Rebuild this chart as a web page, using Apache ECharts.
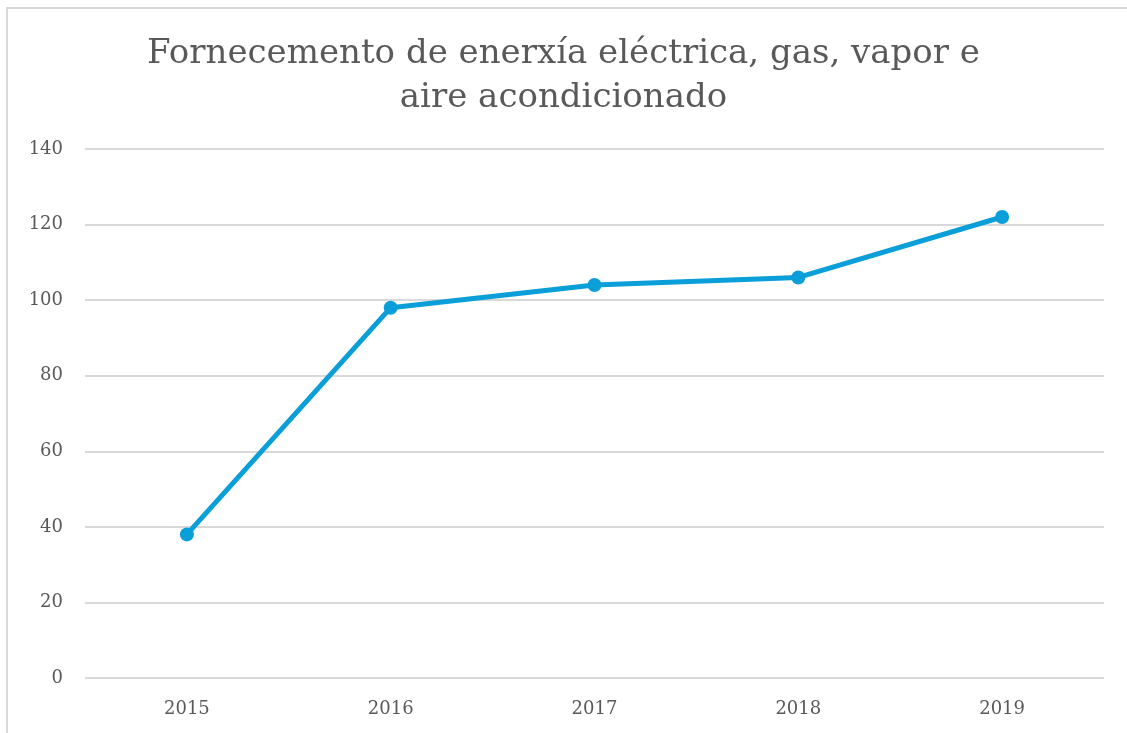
<!DOCTYPE html>
<html>
<head>
<meta charset="utf-8">
<script src="https://cdn.jsdelivr.net/npm/echarts@6/dist/echarts.min.js"></script>
<style>
  html, body { margin: 0; padding: 0; background: #fff; }
  #chart { width: 1127px; height: 733px; }
</style>
</head>
<body>
<div id="chart"></div>
<script>
// data
const years = ['2015', '2016', '2017', '2018', '2019'];
const values = [38, 98, 104, 106, 122];
const titleText = 'Fornecemento de enerxía eléctrica, gas, vapor e\naire acondicionado';

const font = '"DejaVu Serif", serif';
const chart = echarts.init(document.getElementById('chart'));

chart.setOption({
  backgroundColor: '#fff',
  animation: false,
  graphic: [{
    type: 'rect',
    shape: { x: 7, y: 8, width: 1200, height: 800 },
    style: { fill: 'none', stroke: '#d9d9d9', lineWidth: 2 },
    silent: true
  }],
  title: {
    text: titleText,
    left: 'center',
    top: 27,
    textStyle: {
      fontFamily: font,
      fontWeight: 'normal',
      fontSize: 34,
      lineHeight: 44,
      color: '#595959'
    }
  },
  grid: { left: 85, right: 23, top: 149, bottom: 55 },
  xAxis: {
    type: 'category',
    data: years,
    boundaryGap: true,
    axisLine: { show: false },
    axisTick: { show: false },
    axisLabel: { color: '#595959', fontFamily: font, fontSize: 18, margin: 22 }
  },
  yAxis: {
    type: 'value',
    min: 0,
    max: 140,
    interval: 20,
    axisLine: { show: false },
    axisTick: { show: false },
    axisLabel: { color: '#595959', fontFamily: font, fontSize: 18, margin: 22 },
    splitLine: { lineStyle: { color: '#d9d9d9', width: 2 } }
  },
  series: [{
    type: 'line',
    data: values,
    symbol: 'circle',
    symbolSize: 14,
    lineStyle: { color: '#0a9fd8', width: 5 },
    itemStyle: { color: '#0a9fd8' }
  }]
});
</script>
</body>
</html>
